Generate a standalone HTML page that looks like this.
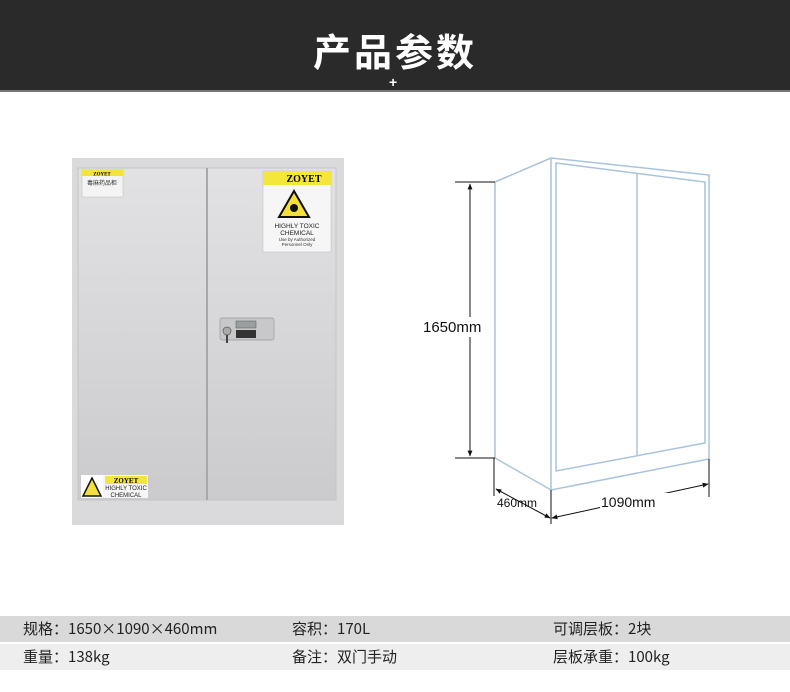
<!DOCTYPE html>
<html><head><meta charset="utf-8"><style>
body{margin:0;width:790px;height:692px;background:#fff;position:relative;overflow:hidden;font-family:"Liberation Sans","Noto Sans CJK SC",sans-serif}
.hd{position:absolute;left:0;top:0;width:790px;height:90px;background:#2a2a2a;border-bottom:2px solid #777}
.tt{position:absolute;left:0;width:790px;top:22px;text-align:center;color:#fff;font-size:38px;font-weight:bold;letter-spacing:3px;font-family:"Noto Sans CJK SC",sans-serif}
.pl{position:absolute;left:389px;top:74px;color:#fff;font-size:14px;font-weight:bold}
.row{position:absolute;left:0;width:790px;height:26px;font-family:"Noto Sans CJK SC","Liberation Sans",sans-serif;font-size:15px;color:#222;line-height:26px}
.row span{position:absolute;top:0}
</style></head><body>
<div class="hd"><div class="tt">产品参数</div><div class="pl">+</div></div>

<svg width="790" height="692" style="position:absolute;left:0;top:0">
<defs>
<linearGradient id="g" x1="0" y1="0" x2="0" y2="1"><stop offset="0" stop-color="#e2e2e4"/><stop offset="1" stop-color="#cbcbcd"/></linearGradient>
<marker id="a" viewBox="0 0 10 10" refX="9" refY="5" markerWidth="6" markerHeight="6" orient="auto-start-reverse"><path d="M0,1L10,5L0,9z" fill="#111"/></marker>
</defs>
<!-- cabinet photo -->
<rect x="72" y="158" width="272" height="367" fill="#dadadc"/>
<rect x="78" y="168" width="258" height="332" fill="url(#g)" stroke="#c4c4c6"/>
<line x1="207" y1="168" x2="207" y2="500" stroke="#a8a8aa" stroke-width="2"/>
<!-- left small sign -->
<rect x="82" y="170" width="41" height="27" fill="#f4f4f4" stroke="#bbb" stroke-width=".5"/>
<rect x="82" y="170" width="41" height="6" fill="#f3e33a"/>
<text x="102" y="175.5" font-size="5" text-anchor="middle" font-weight="bold" font-family="Liberation Serif">ZOYET</text>
<text x="102" y="185" font-size="6" text-anchor="middle" fill="#333" font-family="Noto Sans CJK SC">毒麻药品柜</text>
<!-- right sign -->
<rect x="263" y="171" width="68" height="81" fill="#f6f6f6" stroke="#bbb" stroke-width=".5"/>
<rect x="263" y="171" width="68" height="14" fill="#f5e63a"/>
<text x="304" y="182" font-size="10" text-anchor="middle" font-weight="bold" font-family="Liberation Serif">ZOYET</text>
<polygon points="294,191 279,217 309,217" fill="#f5e03a" stroke="#111" stroke-width="2"/>
<circle cx="294" cy="208" r="4" fill="#111"/>
<text x="297" y="228" font-size="6.5" text-anchor="middle" fill="#222">HIGHLY TOXIC</text>
<text x="297" y="235" font-size="6.5" text-anchor="middle" fill="#222">CHEMICAL</text>
<text x="297" y="241" font-size="4.5" text-anchor="middle" fill="#333">Use by Authorized</text>
<text x="297" y="246" font-size="4.5" text-anchor="middle" fill="#333">Personnel Only</text>
<!-- bottom sign -->
<rect x="81" y="475" width="67" height="23" fill="#f6f6f6"/>
<rect x="81" y="475" width="22" height="23" fill="#fff"/>
<polygon points="92,478 83,496 101,496" fill="#f5e03a" stroke="#111" stroke-width="1.5"/>
<rect x="105" y="476" width="42" height="8" fill="#f5e63a"/>
<text x="126" y="483" font-size="7" text-anchor="middle" font-weight="bold" font-family="Liberation Serif">ZOYET</text>
<text x="126" y="490" font-size="6" text-anchor="middle" fill="#222">HIGHLY TOXIC</text>
<text x="126" y="497" font-size="6" text-anchor="middle" fill="#222">CHEMICAL</text>
<!-- lock -->
<rect x="220" y="318" width="54" height="22" rx="2" fill="#c8c8ca" stroke="#999" stroke-width=".7"/>
<rect x="236" y="321" width="20" height="7" fill="#9aa0a0" stroke="#555" stroke-width=".5"/>
<rect x="236" y="330" width="20" height="8" fill="#333"/>
<circle cx="227" cy="331" r="4" fill="#aaa" stroke="#555" stroke-width=".7"/>
<rect x="226" y="335" width="2" height="8" fill="#444"/>

<!-- diagram -->
<g fill="none" stroke="#a9c3dc" stroke-width="1.5">
<polygon points="495,182 551,158 709,175 709,459 551,490 495,458"/>
<line x1="551" y1="158" x2="551" y2="490"/>
<polygon points="556,163 705,182 705,443 556,471"/>
<line x1="637" y1="173" x2="637" y2="455"/>
</g>
<g stroke="#111" stroke-width="1" fill="none">
<line x1="455" y1="182" x2="495" y2="182"/>
<line x1="455" y1="458" x2="495" y2="458"/>
<line x1="470" y1="184" x2="470" y2="317" marker-start="url(#a)"/>
<line x1="470" y1="337" x2="470" y2="456" marker-end="url(#a)"/>
<line x1="494" y1="458" x2="494" y2="496"/>
<line x1="551" y1="490" x2="551" y2="524"/>
<line x1="709" y1="459" x2="709" y2="497"/>
<line x1="496" y1="489" x2="550" y2="518" marker-start="url(#a)" marker-end="url(#a)"/>
<line x1="552" y1="518" x2="708" y2="484" marker-start="url(#a)" marker-end="url(#a)"/>
</g>
<rect x="600" y="493" width="70" height="16" fill="#fff"/>
<text x="423" y="332" font-size="15" fill="#111">1650mm</text>
<text x="497" y="507" font-size="12" fill="#111">460mm</text>
<text x="601" y="507" font-size="14" fill="#111">1090mm</text>
</svg>

<div class="row" style="top:616px;background:#d9d9d9"><span style="left:23px">规格：1650×1090×460mm</span><span style="left:292px">容积：170L</span><span style="left:553px">可调层板：2块</span></div>
<div class="row" style="top:644px;background:#eeeeee"><span style="left:23px">重量：138kg</span><span style="left:292px">备注：双门手动</span><span style="left:553px">层板承重：100kg</span></div>
</body></html>
